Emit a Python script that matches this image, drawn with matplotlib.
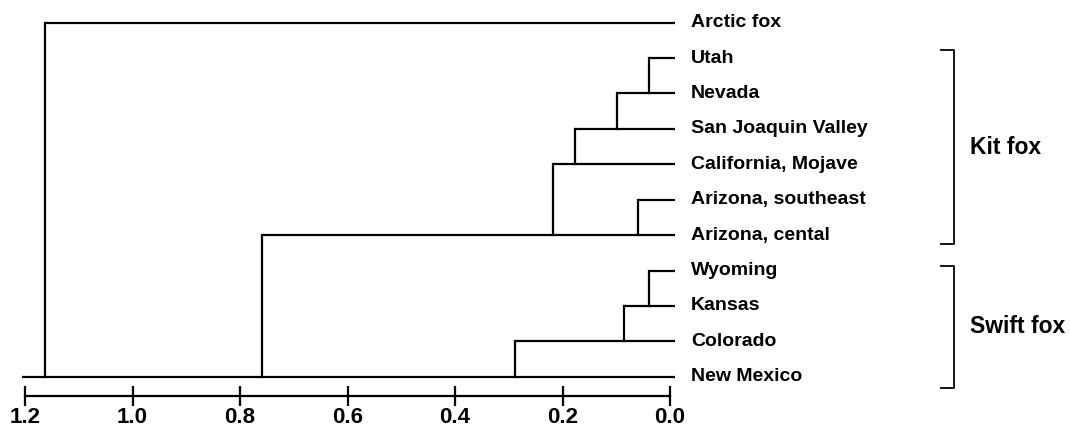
import matplotlib
matplotlib.use("Agg")
import matplotlib.pyplot as plt
from matplotlib.transforms import blended_transform_factory

plt.rcParams['font.family'] = ['Liberation Sans', 'DejaVu Sans']
plt.rcParams['font.weight'] = 'bold'

leaves = ["Arctic fox", "Utah", "Nevada", "San Joaquin Valley", "California, Mojave",
          "Arizona, southeast", "Arizona, cental", "Wyoming", "Kansas", "Colorado", "New Mexico"]
merge_upper = ["Utah", "Nevada", "San Joaquin Valley", "Arizona, southeast", "California, Mojave",
               "Wyoming", "Kansas", "Colorado", "Arizona, cental", "Arctic fox"]
merge_lower = ["Nevada", "San Joaquin Valley", "California, Mojave", "Arizona, cental", "Arizona, cental",
               "Kansas", "Colorado", "New Mexico", "New Mexico", "New Mexico"]
merge_height = [0.039, 0.099, 0.177, 0.060, 0.217, 0.039, 0.086, 0.288, 0.759, 1.162]
root_end = 1.205
groups = ["Kit fox", "Swift fox"]
group_first = ["Utah", "Wyoming"]
group_last = ["Arizona, cental", "New Mexico"]
xticks = [1.2, 1.0, 0.8, 0.6, 0.4, 0.2, 0.0]
xticklabels = ["1.2", "1.0", "0.8", "0.6", "0.4", "0.2", "0.0"]

W, H = 1070, 430
fig = plt.figure(figsize=(W / 100, H / 100), dpi=100)
x0, x1 = 25, 670
ytop_px, ybot_px = 4.95, 395.5
ax = fig.add_axes([x0 / W, (H - ybot_px) / H, (x1 - x0) / W, (ybot_px - ytop_px) / H])
ax.set_xlim(1.2, 0.0)
ax.set_ylim(10.53, -0.5)

ypos = {name: i for i, name in enumerate(leaves)}
lw = 1.6
leaf_overhang = -0.009
ends = {}
for u, h in zip(merge_upper, merge_height):
    ends[u] = h
for name in leaves:
    end = ends.get(name, root_end)
    ax.plot([leaf_overhang, end], [ypos[name]] * 2, color='black', lw=lw,
            solid_capstyle='butt', clip_on=False)
for u, l, h in zip(merge_upper, merge_lower, merge_height):
    ax.plot([h, h], [ypos[u], ypos[l]], color='black', lw=lw,
            solid_capstyle='projecting', clip_on=False)

for name in leaves:
    ax.annotate(name, xy=(0, ypos[name]), xytext=(21, 0), textcoords='offset pixels',
                ha='left', va='center', fontsize=14, fontweight='bold', annotation_clip=False)

# brackets
tr = blended_transform_factory(fig.transFigure, ax.transData)
top_pad = [0.22, 0.13]
bot_pad = [0.26, 0.32]
for g, a, b, tp, bp in zip(groups, group_first, group_last, top_pad, bot_pad):
    ya, yb = ypos[a] - tp, ypos[b] + bp
    bx, tx = 954 / W, 941 / W
    ax.plot([tx, bx, bx, tx], [ya, ya, yb, yb], color='black', lw=1.3,
            transform=tr, clip_on=False)
    ax.text(970 / W, (ya + yb) / 2, g, transform=tr, ha='left', va='center',
            fontsize=16.5, fontweight='bold')

for s in ['top', 'left', 'right']:
    ax.spines[s].set_visible(False)
ax.spines['bottom'].set_linewidth(lw)
ax.set_yticks([])
ax.set_xticks(xticks)
ax.set_xticklabels(xticklabels, fontsize=16, fontweight='bold')
ax.tick_params(axis='x', direction='inout', length=15, width=lw, pad=0.5)
ax.patch.set_visible(False)

fig.savefig("out.png", dpi=100)
